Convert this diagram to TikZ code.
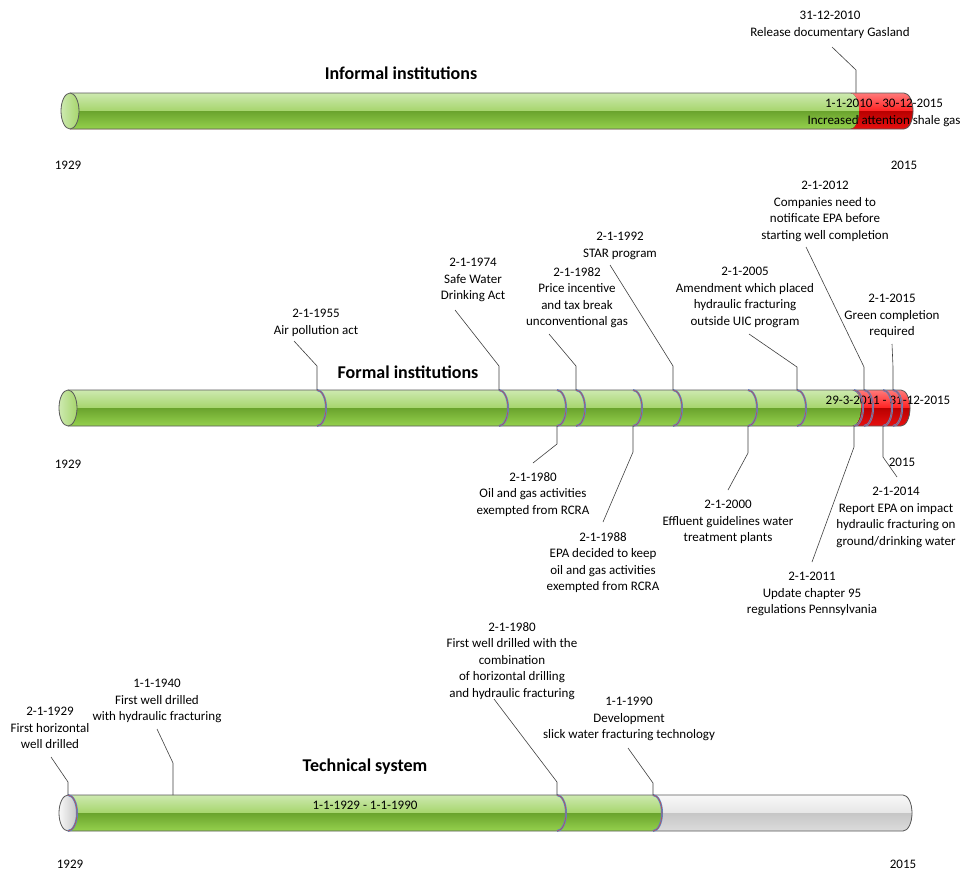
\documentclass[tikz,border=0pt]{standalone}
\usepackage{fontspec}
\setmainfont{Carlito}
\definecolor{gtop}{HTML}{CDE9B0}
\definecolor{gmid}{HTML}{A6D56C}
\definecolor{gdark}{HTML}{6AA32D}
\definecolor{gbot}{HTML}{95D14D}
\definecolor{rtop}{HTML}{FF7A7A}
\definecolor{rmid}{HTML}{FF2020}
\definecolor{rdark}{HTML}{B80000}
\definecolor{rbot}{HTML}{E81010}
\definecolor{wtop}{HTML}{F8F8F8}
\definecolor{wmid}{HTML}{E6E6E6}
\definecolor{wdark}{HTML}{C6C6C6}
\definecolor{wbot}{HTML}{DCDCDC}
\definecolor{edgec}{HTML}{5A5A5A}
\definecolor{mblue}{HTML}{5B86C8}
\definecolor{mred}{HTML}{C0504D}
\definecolor{leadc}{HTML}{404040}
\newcommand\myhalves[4]{%
  \fill[top color=#4top,bottom color=#4mid] (#1,#3-18) rectangle (#2,#3);
  \fill[top color=#4dark,bottom color=#4bot] (#1,#3) rectangle (#2,#3+18);}
\newcommand\myseg[4]{%
  \begin{scope}
  \clip (#1,#3-18) -- (#2,#3-18) arc[start angle=-90,end angle=90,x radius=9,y radius=18] -- (#1,#3+18) -- cycle;
  \myhalves{#1}{#2+10}{#3}{#4}
  \end{scope}}
\newcommand\myoutline[3]{%
  \draw[edgec,line width=0.8pt] (#1,#3-18) -- (#2,#3-18) arc[start angle=-90,end angle=90,x radius=9,y radius=18] -- (#1,#3+18);}
\newcommand\mymark[2]{%
  \draw[mblue,line width=2pt] (#1,#2-18) arc[start angle=-90,end angle=90,x radius=9,y radius=18];
  \draw[mred,line width=0.6pt] (#1,#2-18) arc[start angle=-90,end angle=90,x radius=9,y radius=18];}
\tikzset{
  lbl/.style={align=center,inner sep=0pt,anchor=north,font=\fontsize{13}{16.5}\selectfont},
  ttl/.style={inner sep=0pt,font=\fontsize{18}{20}\selectfont\bfseries},
  yr/.style={inner sep=0pt,font=\fontsize{13}{16}\selectfont},
  leader/.style={draw=leadc,line width=0.6pt}
}
\begin{document}
\begin{tikzpicture}[x=1pt,y=-1pt]
\useasboundingbox[fill=white] (0,0) rectangle (963,871);

% ================= Informal institutions =================
\begin{scope}
\clip (70,93) -- (904,93) arc[start angle=-90,end angle=90,x radius=9,y radius=18] -- (70,129) -- cycle;
\myhalves{70}{915}{111}{r}
\end{scope}
\myseg{70}{850}{111}{g}
\myoutline{70}{904}{111}
\draw[edgec,line width=0.8pt,left color=gtop,right color=gmid] (70,111) ellipse [x radius=9,y radius=18];
\node[ttl] (t1) at (401,73) {Informal institutions};
\node[lbl] (i1) at (884,99) {1-1-2010 - 30-12-2015\\Increased attention shale gas};
\node[lbl] (i2) at (830,11) {31-12-2010\\Release documentary Gasland};
\coordinate (i2a) at (856,93);
\coordinate (i2b) at (856,70);
\coordinate (i2c) at (832,47);
\draw[leader] (i2a) -- (i2b) -- (i2c);
\node[yr] (y1a) at (68,165) {1929};
\node[yr] (y1b) at (904,165) {2015};

% ================= Formal institutions =================
\begin{scope}
\clip (68,390) -- (901,390) arc[start angle=-90,end angle=90,x radius=9,y radius=18] -- (68,426) -- cycle;
\myhalves{840}{912}{408}{r}
\end{scope}
\myseg{68}{852}{408}{g}
\myoutline{68}{901}{408}
\draw[edgec,line width=0.8pt,left color=gtop,right color=gmid] (68,408) ellipse [x radius=9,y radius=18];
\node[yr] (f0) at (888,400) {29-3-2011 - 31-12-2015};
\foreach \m in {317,499,557,576,633,673,748,797,854,864,883,893} {\mymark{\m}{408}}
\node[ttl] (t2) at (408,372) {Formal institutions};
\node[yr] (y2a) at (68,464) {1929};
\node[yr] (y2b) at (902,462) {2015};

% top labels
\node[lbl] (f55) at (316,309) {2-1-1955\\Air pollution act};
\coordinate (f55a) at (317,390); \coordinate (f55b) at (317,366); \coordinate (f55c) at (294,341);
\draw[leader] (f55a) -- (f55b) -- (f55c);

\node[lbl] (f74) at (473,258) {2-1-1974\\Safe Water\\Drinking Act};
\coordinate (f74a) at (499,390); \coordinate (f74b) at (499,366); \coordinate (f74c) at (455,310);
\draw[leader] (f74a) -- (f74b) -- (f74c);

\node[lbl] (f82) at (577,267) {2-1-1982\\Price incentive\\and tax break\\unconventional gas};
\coordinate (f82a) at (576,390); \coordinate (f82b) at (576,366); \coordinate (f82c) at (549,334);
\draw[leader] (f82a) -- (f82b) -- (f82c);

\node[lbl] (f92) at (620,232) {2-1-1992\\STAR program};
\coordinate (f92a) at (673,390); \coordinate (f92b) at (673,366); \coordinate (f92c) at (610,265);
\draw[leader] (f92a) -- (f92b) -- (f92c);

\node[lbl] (f05) at (745,267) {2-1-2005\\Amendment which placed\\hydraulic fracturing\\outside UIC program};
\coordinate (f05a) at (797,390); \coordinate (f05b) at (797,367); \coordinate (f05c) at (749,334);
\draw[leader] (f05a) -- (f05b) -- (f05c);

\node[lbl] (f12) at (825,181) {2-1-2012\\Companies need to\\notificate EPA before\\starting well completion};
\coordinate (f12a) at (864,390); \coordinate (f12b) at (864,367); \coordinate (f12c) at (806,247);
\draw[leader] (f12a) -- (f12b) -- (f12c);

\node[lbl] (f15) at (892,294) {2-1-2015\\Green completion\\required};
\coordinate (f15a) at (893,390); \coordinate (f15b) at (893,367); \coordinate (f15c) at (892,344);
\draw[leader] (f15a) -- (f15b) -- (f15c);

% bottom labels
\node[lbl] (f80) at (533,472) {2-1-1980\\Oil and gas activities\\exempted from RCRA};
\coordinate (f80a) at (557,426); \coordinate (f80b) at (557,444); \coordinate (f80c) at (533,463);
\draw[leader] (f80a) -- (f80b) -- (f80c);

\node[lbl] (f88) at (603,532) {2-1-1988\\EPA decided to keep\\oil and gas activities\\exempted from RCRA};
\coordinate (f88a) at (633,426); \coordinate (f88b) at (633,452); \coordinate (f88c) at (603,522);
\draw[leader] (f88a) -- (f88b) -- (f88c);

\node[lbl] (f00) at (728,500) {2-1-2000\\Effluent guidelines water\\treatment plants};
\coordinate (f00a) at (748,426); \coordinate (f00b) at (748,453); \coordinate (f00c) at (728,490);
\draw[leader] (f00a) -- (f00b) -- (f00c);

\node[lbl] (f11) at (812,572) {2-1-2011\\Update chapter 95\\regulations Pennsylvania};
\coordinate (f11a) at (854,426); \coordinate (f11b) at (854,447); \coordinate (f11c) at (812,562);
\draw[leader] (f11a) -- (f11b) -- (f11c);

\node[lbl] (f14) at (896,487) {2-1-2014\\Report EPA on impact\\hydraulic fracturing on\\ground/drinking water};
\coordinate (f14a) at (883,426); \coordinate (f14b) at (883,457); \coordinate (f14c) at (897,477);
\draw[leader] (f14a) -- (f14b) -- (f14c);

% ================= Technical system =================
\begin{scope}
\clip (68,795) -- (903,795) arc[start angle=-90,end angle=90,x radius=9,y radius=18] -- (68,831) -- cycle;
\myhalves{640}{914}{813}{w}
\end{scope}
\myseg{68}{653}{813}{g}
\myoutline{68}{903}{813}
\draw[edgec,line width=0.8pt,left color=wtop,right color=wdark] (68,813) ellipse [x radius=9,y radius=18];
\foreach \m in {68,557,653} {\mymark{\m}{813}}
\node[yr] (tx0) at (365,805) {1-1-1929 - 1-1-1990};
\node[ttl] (t3) at (365,767) {Technical system};
\node[yr] (y3a) at (70,864) {1929};
\node[yr] (y3b) at (903,864) {2015};

\node[lbl] (x29) at (50,707) {2-1-1929\\First horizontal\\well drilled};
\coordinate (x29a) at (68,795); \coordinate (x29b) at (68,782); \coordinate (x29c) at (51,757);
\draw[leader] (x29a) -- (x29b) -- (x29c);

\node[lbl] (x40) at (157,679) {1-1-1940\\First well drilled\\with hydraulic fracturing};
\coordinate (x40a) at (173,795); \coordinate (x40b) at (173,763); \coordinate (x40c) at (157,729);
\draw[leader] (x40a) -- (x40b) -- (x40c);

\node[lbl] (x80) at (512,622) {2-1-1980\\First well drilled with the\\combination\\of horizontal drilling\\and hydraulic fracturing};
\coordinate (x80a) at (557,795); \coordinate (x80b) at (557,782); \coordinate (x80c) at (494,699);
\draw[leader] (x80a) -- (x80b) -- (x80c);

\node[lbl] (x90) at (629,697) {1-1-1990\\Development\\slick water fracturing technology};
\coordinate (x90a) at (653,795); \coordinate (x90b) at (653,783); \coordinate (x90c) at (628,748);
\draw[leader] (x90a) -- (x90b) -- (x90c);
\end{tikzpicture}
\end{document}
